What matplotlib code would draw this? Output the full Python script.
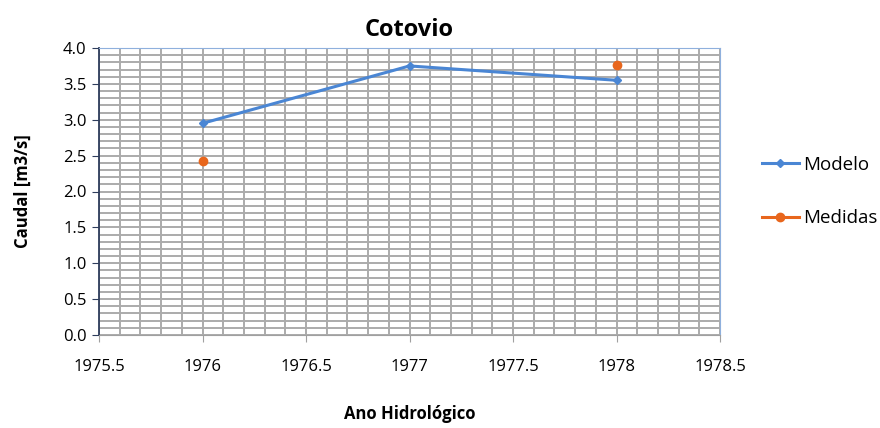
import matplotlib
matplotlib.use('Agg')
import matplotlib.pyplot as plt
from matplotlib.lines import Line2D
import numpy as np

# data
anos_modelo = [1976, 1977, 1978]
caudal_modelo = [2.95, 3.75, 3.55]
anos_medidas = [1976, 1978]
caudal_medidas = [2.43, 3.77]

plt.rcParams['font.family'] = ['Open Sans', 'DejaVu Sans']

fig = plt.figure(figsize=(8.8, 4.28), dpi=100)
ax = fig.add_axes([99/880, 1 - 335/428, (720-99)/880, (335-48)/428])

azul = '#4a86d4'
laranja = '#e8661c'
ax.plot(anos_modelo, caudal_modelo, color=azul, lw=2.2, marker='D', ms=4, zorder=3)
ax.plot(anos_medidas, caudal_medidas, color=laranja, lw=0, marker='o', ms=6, zorder=3)

ax.set_xlim(1975.5, 1978.5)
ax.set_ylim(0, 4)
ax.set_xticks(np.arange(1975.5, 1978.51, 0.5))
ax.set_xticklabels(['1975.5', '1976', '1976.5', '1977', '1977.5', '1978', '1978.5'])
ax.set_yticks(np.arange(0, 4.01, 0.5))
ax.set_yticklabels([f'{v:.1f}' for v in np.arange(0, 4.01, 0.5)])
ax.set_xticks(np.arange(1975.5, 1978.51, 0.1), minor=True)
ax.set_yticks(np.arange(0, 4.01, 0.1), minor=True)
ax.grid(which='both', color='#ababab', lw=1.4)
ax.set_axisbelow(True)
ax.tick_params(which='minor', length=0)
ax.tick_params(which='major', labelsize=12, length=5, color='#2e3d5c', pad=12)
ax.tick_params(axis='y', pad=4)

ax.spines['left'].set_color('#2e3d5c')
ax.spines['left'].set_linewidth(1.3)
ax.spines['bottom'].set_color('#a0a0a0')
ax.spines['top'].set_color('#8fb0dd')
ax.spines['right'].set_color('#8fb0dd')
ax.tick_params(axis='x', color='#a0a0a0')

ax.set_title('Cotovio', fontsize=17, fontweight='bold', pad=9)
ax.set_xlabel('Ano Hidrológico', fontsize=12, fontweight='bold', labelpad=22)
ax.set_ylabel('Caudal [m3/s]', fontsize=12, fontweight='bold', labelpad=22)

handles = [Line2D([], [], color=azul, lw=2.2, marker='D', ms=4),
           Line2D([], [], color=laranja, lw=2.2, marker='o', ms=6)]
ax.legend(handles, ['Modelo', 'Medidas'], loc='center left',
          bbox_to_anchor=(1.055, 0.5), frameon=False, borderaxespad=0,
          fontsize=13.5, handlelength=2.0, labelspacing=1.9, handletextpad=0.2)

fig.savefig('out.png', dpi=100)
